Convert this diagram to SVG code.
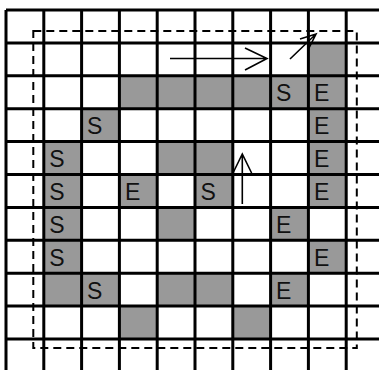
<svg xmlns="http://www.w3.org/2000/svg" width="379" height="370" viewBox="0 0 379 370">
<style>
.c{fill:#999999}
.g{stroke:#000;stroke-width:3;fill:none}
.d{stroke:#000;stroke-width:2;fill:none;stroke-dasharray:8 5}
.a{stroke:#000;stroke-width:1.6;fill:none}
.t{font-family:"Liberation Sans",Arial,sans-serif;font-size:23px;fill:#111}
</style>
<rect width="379" height="370" fill="#fff"/>
<g id="cells">
<rect class="c" x="308.4" y="42.9" width="37.8" height="32.9"/>
<rect class="c" x="119.4" y="75.8" width="226.8" height="32.9"/>
<rect class="c" x="81.6" y="108.7" width="37.8" height="32.9"/>
<rect class="c" x="308.4" y="108.7" width="37.8" height="32.9"/>
<rect class="c" x="43.8" y="141.6" width="37.8" height="32.9"/>
<rect class="c" x="157.2" y="141.6" width="75.6" height="32.9"/>
<rect class="c" x="308.4" y="141.6" width="37.8" height="32.9"/>
<rect class="c" x="43.8" y="174.5" width="37.8" height="32.9"/>
<rect class="c" x="119.4" y="174.5" width="37.8" height="32.9"/>
<rect class="c" x="195" y="174.5" width="37.8" height="32.9"/>
<rect class="c" x="308.4" y="174.5" width="37.8" height="32.9"/>
<rect class="c" x="43.8" y="207.4" width="37.8" height="32.9"/>
<rect class="c" x="157.2" y="207.4" width="37.8" height="32.9"/>
<rect class="c" x="270.6" y="207.4" width="37.8" height="32.9"/>
<rect class="c" x="43.8" y="240.3" width="37.8" height="32.9"/>
<rect class="c" x="308.4" y="240.3" width="37.8" height="32.9"/>
<rect class="c" x="43.8" y="273.2" width="75.6" height="32.9"/>
<rect class="c" x="157.2" y="273.2" width="75.6" height="32.9"/>
<rect class="c" x="270.6" y="273.2" width="37.8" height="32.9"/>
<rect class="c" x="119.4" y="306.1" width="37.8" height="32.9"/>
<rect class="c" x="232.8" y="306.1" width="37.8" height="32.9"/>
</g>
<g id="grid" class="g">
<path d="M6 10H379M6 42.9H379M6 75.8H379M6 108.7H379M6 141.6H379M6 174.5H379M6 207.4H379M6 240.3H379M6 273.2H379M6 306.1H379M6 339H379"/>
<path d="M6 10V370M43.8 10V370M81.6 10V370M119.4 10V370M157.2 10V370M195 10V370M232.8 10V370M270.6 10V370M308.4 10V370M346.2 10V370"/>
</g>
<rect id="boundary" class="d" x="33.3" y="31" width="323.5" height="317"/>
<g id="labels" class="t">
<text x="276.1" y="101.3">S</text>
<text x="313.9" y="101.3">E</text>
<text x="87.1" y="134.2">S</text>
<text x="313.9" y="134.2">E</text>
<text x="49.3" y="167.1">S</text>
<text x="313.9" y="167.1">E</text>
<text x="49.3" y="200">S</text>
<text x="124.9" y="200">E</text>
<text x="200.5" y="200">S</text>
<text x="313.9" y="200">E</text>
<text x="49.3" y="232.9">S</text>
<text x="276.1" y="232.9">E</text>
<text x="49.3" y="265.8">S</text>
<text x="313.9" y="265.8">E</text>
<text x="87.1" y="298.7">S</text>
<text x="276.1" y="298.7">E</text>
</g>
<g id="connectors" class="a">
<path d="M170 58.5H267M245 48L267 58.5L245 70"/>
<path d="M290 59L316 34M300 39L316 34L308 50"/>
<path d="M242.3 204V154M233 173L242.3 154L251.6 173"/>
</g>
</svg>
